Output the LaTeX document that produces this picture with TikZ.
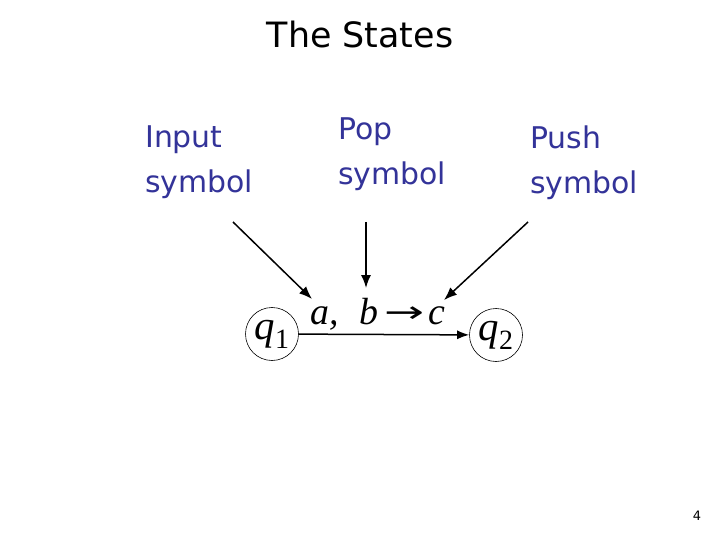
\documentclass[tikz,border=0pt]{standalone}
\usepackage{fontspec}
\setmainfont{DejaVu Sans}
\newfontfamily\tms{Liberation Serif}
\usetikzlibrary{arrows.meta}
\definecolor{lblue}{HTML}{333399}
\newcommand{\stname}[2]{{\tms\itshape #1}\raisebox{-0.22em}{\tms\fontsize{28}{28}\selectfont #2}}
\begin{document}
\begin{tikzpicture}[x=1bp,y=-1bp,
  lbl/.style={text=lblue,font=\fontsize{30}{45}\selectfont,align=left,anchor=north west,inner sep=0pt},
  st/.style={draw,circle,minimum size=53bp,inner sep=0pt,line width=0.6bp,font=\fontsize{41}{41}\selectfont},
  arr/.style={line width=1.5bp,-{Latex[length=13bp,width=10bp]}}]
\useasboundingbox[fill=white] (0,0) rectangle (720,540);
\node[font=\fontsize{35}{36}\selectfont,anchor=base] (title) at (360,48) {The States};
\node[lbl] (inp) at (145,126) {Input\\symbol};
\node[lbl] (pop) at (338,118) {Pop\\symbol};
\node[lbl] (push) at (530,126) {Push\\symbol};
\node[st] (q1) at (272,334) {\stname{q}{1}};
\node[st] (q2) at (496,335) {\stname{q}{2}};
\draw[line width=1.5bp,-{Latex[length=12bp,width=9bp]}] (q1) -- (q2)
  node[midway,above=0bp,xshift=-6bp,font=\fontsize{38}{38}\selectfont] (lab) {{\tms\itshape a,}\hspace{0.55em}{\tms\itshape b}\hspace{0.15em}\raisebox{0.05em}{\scalebox{1.6}[1]{\fontsize{30}{30}\selectfont →}}\hspace{0.1em}{\tms\itshape c}};
\coordinate (s1) at (233,222); \coordinate (e1) at (312,299);
\coordinate (s2) at (366,222); \coordinate (e2) at (366,288);
\coordinate (s3) at (528,222); \coordinate (e3) at (444,300);
\draw[arr] (s1) -- (e1);
\draw[arr] (s2) -- (e2);
\draw[arr] (s3) -- (e3);
\node[font=\fontsize{13}{13}\selectfont] (pg) at (697,516) {4};
\end{tikzpicture}
\end{document}
